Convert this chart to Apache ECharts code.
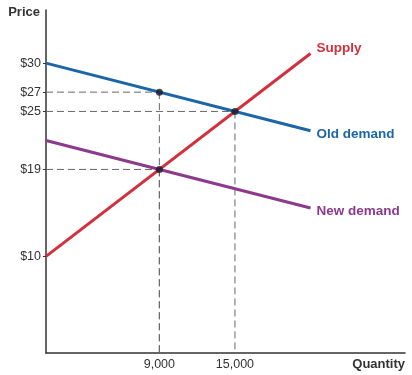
<!DOCTYPE html>
<html>
<head>
<meta charset="utf-8">
<script src="https://cdn.jsdelivr.net/npm/echarts@6/dist/echarts.min.js"></script>
<style>html,body{margin:0;padding:0;background:#fff}#c{width:412px;height:375px}</style>
</head>
<body>
<div id="c"></div>
<script>
const quantities = [0, 21000];
const supplyPrices = [10, 31];
const oldDemandPrices = [30, 23];
const newDemandPrices = [22, 15];
const eqQuantities = [9000, 15000, 9000];
const eqPrices = [27, 25, 19];
const priceTicks = [10, 19, 25, 27, 30];
const quantityTicks = [9000, 15000];
const seriesNames = ['Supply', 'Old demand', 'New demand'];

const FONT = '"Liberation Sans", Arial, sans-serif';
const colors = ['#d3303d', '#1c66a8', '#8b3a8c'];
const pairs = a => quantities.map((q, i) => [q, a[i]]);
const lineSeries = [supplyPrices, oldDemandPrices, newDemandPrices].map((arr, k) => ({
  type: 'line', name: seriesNames[k], data: pairs(arr), symbol: 'none', z: 5,
  lineStyle: { color: colors[k], width: 3 },
  endLabel: { show: true, formatter: seriesNames[k], color: colors[k], fontFamily: FONT,
    fontWeight: 'bold', fontSize: 13.5, distance: 6,
    offset: [0, k === 0 ? -5 : (k === 1 ? 4 : 3)] }
}));
const guideSeries = [];
eqQuantities.forEach((q, i) => {
  guideSeries.push({ type: 'line', data: [[0, eqPrices[i]], [q, eqPrices[i]]], symbol: 'none', silent: true, z: 2,
    lineStyle: { color: '#666', width: 1, type: [7, 4] } });
  guideSeries.push({ type: 'line', data: [[q, eqPrices[i]], [q, 0]], symbol: 'none', silent: true, z: 2,
    lineStyle: { color: '#666', width: 1, type: [7, 4] } });
});
const chart = echarts.init(document.getElementById('c'));
chart.setOption({
  animation: false,
  grid: { left: 46, right: 7, top: 10, bottom: 22 },
  xAxis: { type: 'value', min: 0, max: 28500,
    axisLine: { show: true, lineStyle: { color: '#333', width: 1.5 } },
    axisTick: { show: false }, splitLine: { show: false },
    axisLabel: { customValues: quantityTicks, color: '#333', fontFamily: FONT, fontSize: 12.5, margin: 5,
      formatter: v => v.toLocaleString('en-US') },
    name: 'Quantity', nameLocation: 'end', nameGap: 0,
    nameTextStyle: { color: '#333', fontFamily: FONT, fontWeight: 'bold', fontSize: 13, 
      align: 'right', verticalAlign: 'top', padding: [5, 0, 0, 0] } },
  yAxis: { type: 'value', min: 0, max: 35.5,
    axisLine: { show: true, lineStyle: { color: '#333', width: 1.5 } },
    axisTick: { show: true, customValues: priceTicks, length: 3, lineStyle: { color: '#333' } },
    splitLine: { show: false },
    axisLabel: { customValues: priceTicks, color: '#333', fontFamily: FONT, fontSize: 12.5, margin: 5,
      formatter: v => '$' + v },
    name: 'Price', nameLocation: 'end', nameGap: 0,
    nameTextStyle: { color: '#333', fontFamily: FONT, fontWeight: 'bold', fontSize: 13,
      align: 'right', verticalAlign: 'top', padding: [-4, 6, 0, 0] } },
  series: guideSeries.concat(lineSeries, [{
    type: 'scatter', data: eqQuantities.map((q, i) => [q, eqPrices[i]]), symbolSize: 7, z: 10,
    itemStyle: { color: '#1a1a2a' } }])
});
</script>
</body>
</html>
